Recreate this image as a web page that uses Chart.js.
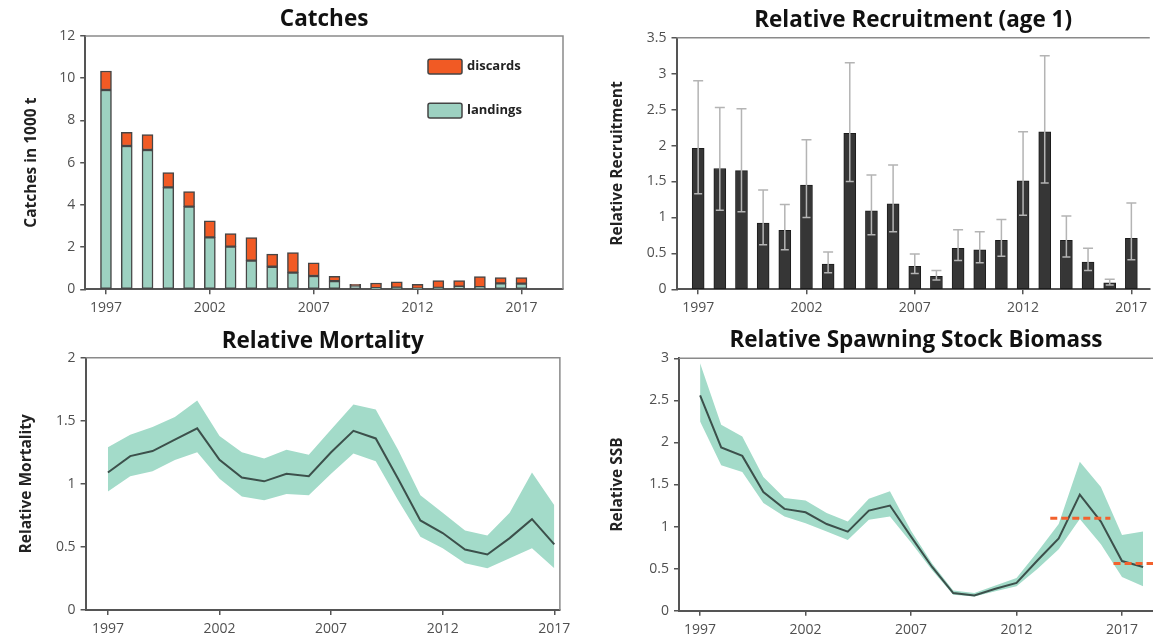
<!DOCTYPE html>
<html>
<head>
<meta charset="utf-8">
<title>Stock summary</title>
<script src="https://cdn.jsdelivr.net/npm/chart.js@4.4.1/dist/chart.umd.min.js"></script>
<style>
  html, body { margin: 0; padding: 0; background: #fff; }
  body { width: 1153px; height: 642px; position: relative; overflow: hidden; }
  .panel { position: absolute; }
</style>
</head>
<body>
<div class="panel" style="left:0;top:0;width:576px;height:320px"><canvas id="catches"></canvas></div>
<div class="panel" style="left:576px;top:0;width:577px;height:320px"><canvas id="recruitment"></canvas></div>
<div class="panel" style="left:0;top:320px;width:576px;height:322px"><canvas id="mortality"></canvas></div>
<div class="panel" style="left:576px;top:320px;width:577px;height:322px"><canvas id="ssb"></canvas></div>
<script>
// ---- data ----
const years = [1997, 1998, 1999, 2000, 2001, 2002, 2003, 2004, 2005, 2006, 2007,
               2008, 2009, 2010, 2011, 2012, 2013, 2014, 2015, 2016, 2017];
const ssbYears = [1997, 1998, 1999, 2000, 2001, 2002, 2003, 2004, 2005, 2006, 2007,
                  2008, 2009, 2010, 2011, 2012, 2013, 2014, 2015, 2016, 2017, 2018];
const yearTicks = [1997, 2002, 2007, 2012, 2017];

// catches in 1000 t
const landings = [9.44, 6.79, 6.6, 4.83, 3.92, 2.46, 2.02, 1.36, 1.07, 0.79, 0.63,
                  0.39, 0.17, 0.05, 0.08, 0.03, 0.07, 0.12, 0.1, 0.28, 0.27];
const discards = [0.9, 0.65, 0.73, 0.7, 0.71, 0.78, 0.62, 1.09, 0.6, 0.95, 0.62,
                  0.23, 0.07, 0.25, 0.27, 0.21, 0.34, 0.29, 0.5, 0.27, 0.28];
const catchTicks = [0, 2, 4, 6, 8, 10, 12];

// relative recruitment (age 1) with confidence limits
const recruit     = [1.96, 1.68, 1.65, 0.92, 0.82, 1.45, 0.35, 2.17, 1.09, 1.19, 0.32,
                     0.18, 0.57, 0.55, 0.68, 1.51, 2.19, 0.68, 0.38, 0.09, 0.71];
const recruitHigh = [2.9, 2.53, 2.51, 1.38, 1.18, 2.08, 0.52, 3.15, 1.59, 1.73, 0.49,
                     0.26, 0.83, 0.8, 0.97, 2.19, 3.25, 1.02, 0.57, 0.14, 1.2];
const recruitLow  = [1.33, 1.1, 1.08, 0.62, 0.55, 1.0, 0.23, 1.5, 0.76, 0.8, 0.22,
                     0.13, 0.4, 0.37, 0.46, 1.03, 1.48, 0.45, 0.26, 0.06, 0.41];
const recruitTicks = [0, 0.5, 1, 1.5, 2, 2.5, 3, 3.5];

// relative mortality with confidence band
const mort     = [1.09, 1.22, 1.26, 1.35, 1.44, 1.19, 1.05, 1.02, 1.08, 1.06, 1.25,
                  1.42, 1.36, 1.04, 0.71, 0.61, 0.48, 0.44, 0.57, 0.72, 0.52];
const mortHigh = [1.29, 1.39, 1.45, 1.53, 1.66, 1.38, 1.25, 1.2, 1.27, 1.23, 1.43,
                  1.63, 1.59, 1.27, 0.91, 0.77, 0.63, 0.59, 0.77, 1.09, 0.83];
const mortLow  = [0.94, 1.06, 1.1, 1.19, 1.25, 1.04, 0.9, 0.87, 0.92, 0.91, 1.08,
                  1.24, 1.18, 0.87, 0.58, 0.49, 0.37, 0.33, 0.41, 0.49, 0.33];
const mortTicks = [0, 0.5, 1, 1.5, 2];

// relative spawning stock biomass with confidence band
const ssb     = [2.56, 1.94, 1.84, 1.41, 1.21, 1.17, 1.03, 0.94, 1.19, 1.25, 0.88,
                 0.52, 0.21, 0.18, 0.26, 0.33, 0.6, 0.86, 1.38, 1.06, 0.59, 0.52];
const ssbHigh = [2.94, 2.21, 2.07, 1.59, 1.34, 1.31, 1.16, 1.06, 1.33, 1.42, 0.95,
                 0.56, 0.24, 0.21, 0.3, 0.39, 0.7, 1.03, 1.77, 1.47, 0.9, 0.94];
const ssbLow  = [2.25, 1.73, 1.65, 1.28, 1.12, 1.04, 0.94, 0.84, 1.08, 1.12, 0.81,
                 0.48, 0.19, 0.17, 0.23, 0.29, 0.5, 0.73, 1.09, 0.79, 0.4, 0.29];
const ssbTicks = [0, 0.5, 1, 1.5, 2, 2.5, 3];
// index-period means (level, first year edge, last year edge)
const ssbMeanLevels = [1.1, 0.56];
const ssbMeanFrom   = [2013.6, 2016.6];
const ssbMeanTo     = [2016.45, 2018.5];

// ---- styling ----
const FONT = 'Open Sans';
const AXIS = '#555';
const TICK_TEXT = '#505050';
const BAND = '#a3dbc9';
const LINE = '#3c504b';
const TITLE_SIZE = 22.5;
const AXIS_TITLE_SIZE = 15.5;

const pts = (xs, ys) => xs.map((x, i) => ({ x: x, y: ys[i] }));

function xAxis(min, max, height) {
  return {
    type: 'linear', min: min, max: max, offset: false,
    afterBuildTicks: s => { s.ticks = yearTicks.map(v => ({ value: v })); },
    afterFit: s => { s.height = height; },
    ticks: { font: { family: FONT, size: 14 }, color: TICK_TEXT, padding: 5.5,
             maxRotation: 0, autoSkip: false, callback: v => String(v) },
    grid: { display: true, drawOnChartArea: false, drawTicks: true, tickLength: 5,
            color: AXIS, lineWidth: 1.5, offset: false },
    border: { display: true, color: AXIS, width: 2 }
  };
}

// titleCenter: horizontal centre of the rotated axis title, from the canvas edge
function yAxis(max, tickVals, width, title, titleCenter) {
  return {
    type: 'linear', min: 0, max: max,
    afterBuildTicks: s => { s.ticks = tickVals.map(v => ({ value: v })); },
    afterFit: s => { s.width = width; },
    ticks: { font: { family: FONT, size: 14 }, color: TICK_TEXT, padding: 5,
             callback: v => String(v) },
    grid: { display: true, drawOnChartArea: false, drawTicks: true, tickLength: 5,
            color: AXIS, lineWidth: 1.5 },
    border: { display: true, color: AXIS, width: 2 },
    title: { display: true, text: title, color: '#222',
             font: { family: FONT, size: AXIS_TITLE_SIZE, weight: 'bold' },
             padding: { top: titleCenter - AXIS_TITLE_SIZE * 0.6, bottom: 0 } }
  };
}

// centre: vertical centre of the title line; areaTop: top of the plotting area
function titleOpts(text, centre, areaTop) {
  const half = TITLE_SIZE * 0.6;
  return {
    display: true, text: text, color: '#111', fullSize: false,
    font: { family: FONT, size: TITLE_SIZE, weight: 'bold' },
    padding: { top: centre - half, bottom: areaTop - centre - half }
  };
}

// top (and optionally right) frame of the plotting area
const frame = {
  id: 'frame',
  afterDraw(chart, args, opts) {
    const { ctx, chartArea: a } = chart;
    ctx.save();
    ctx.strokeStyle = '#8a8a8a';
    ctx.lineWidth = 1.5;
    ctx.beginPath();
    ctx.moveTo(a.left, a.top);
    ctx.lineTo(a.right, a.top);
    if (opts.right) ctx.lineTo(a.right, a.bottom);
    ctx.stroke();
    ctx.restore();
  }
};

// legend boxes drawn inside the catches plot
const insideLegend = {
  id: 'insideLegend',
  afterDraw(chart, args, opts) {
    const { ctx } = chart;
    const order = [1, 0]; // discards above landings
    ctx.save();
    order.forEach((di, k) => {
      const ds = chart.data.datasets[di];
      const x = opts.x, y = opts.y + k * opts.gap;
      ctx.fillStyle = ds.backgroundColor;
      ctx.strokeStyle = '#444';
      ctx.lineWidth = 1.5;
      ctx.beginPath();
      ctx.roundRect(x, y, opts.w, opts.h, 2);
      ctx.fill();
      ctx.stroke();
      ctx.fillStyle = '#222';
      ctx.font = 'bold 13px "' + FONT + '"';
      ctx.textBaseline = 'middle';
      ctx.fillText(ds.label, x + opts.w + 5, y + opts.h / 2);
    });
    ctx.restore();
  }
};

// confidence limits on the recruitment bars
const errorBars = {
  id: 'errorBars',
  afterDatasetsDraw(chart, args, opts) {
    const { ctx, scales: { x, y } } = chart;
    ctx.save();
    ctx.strokeStyle = '#b4b4b4';
    ctx.lineWidth = 1.5;
    opts.years.forEach((yr, i) => {
      const px = x.getPixelForValue(yr);
      const hi = y.getPixelForValue(opts.high[i]);
      const lo = y.getPixelForValue(opts.low[i]);
      ctx.beginPath();
      ctx.moveTo(px, lo); ctx.lineTo(px, hi);
      ctx.moveTo(px - 5, hi); ctx.lineTo(px + 5, hi);
      ctx.moveTo(px - 4, lo); ctx.lineTo(px + 4, lo);
      ctx.stroke();
    });
    ctx.restore();
  }
};

Chart.defaults.animation = false;
Chart.defaults.responsive = true;
Chart.defaults.maintainAspectRatio = false;
Chart.defaults.font.family = FONT;

// ---- Catches ----
new Chart(document.getElementById('catches'), {
  type: 'bar',
  data: {
    datasets: [
      { label: 'landings', data: pts(years, landings), backgroundColor: '#9dd1c1',
        borderColor: '#464646', borderWidth: 1.5, borderSkipped: false, barThickness: 11 },
      { label: 'discards', data: pts(years, discards), backgroundColor: '#f15a24',
        borderColor: '#464646', borderWidth: 1.5, borderSkipped: false, barThickness: 11 }
    ]
  },
  options: {
    layout: { padding: { left: 0, right: 13, top: 0, bottom: 0 } },
    scales: {
      x: Object.assign(xAxis(1996, 2019, 30.7), { stacked: true }),
      y: Object.assign(yAxis(12, catchTicks, 85.2, 'Catches in 1000 t', 31.2), { stacked: true })
    },
    plugins: {
      legend: { display: false }, tooltip: { enabled: false },
      title: titleOpts('Catches', 20, 36),
      frame: { right: true },
      insideLegend: { x: 428, y: 59.3, w: 34, h: 14.7, gap: 44 }
    }
  },
  plugins: [frame, insideLegend]
});

// ---- Relative Recruitment ----
new Chart(document.getElementById('recruitment'), {
  type: 'bar',
  data: {
    datasets: [
      { label: 'recruitment', data: pts(years, recruit), backgroundColor: '#363636',
        borderColor: '#1c1c1c', borderWidth: 1, borderSkipped: false, barThickness: 12 }
    ]
  },
  options: {
    layout: { padding: 0 },
    scales: {
      x: xAxis(1996, 2017.85, 30.7),
      y: yAxis(3.5, recruitTicks, 100.5, 'Relative Recruitment', 41.2)
    },
    plugins: {
      legend: { display: false }, tooltip: { enabled: false },
      title: titleOpts('Relative Recruitment (age 1)', 20.7, 37.7),
      frame: { right: false },
      errorBars: { years: years, high: recruitHigh, low: recruitLow }
    }
  },
  plugins: [frame, errorBars]
});

// Estimate line first so it is painted above the confidence band
// (Chart.js paints the first dataset last).
function bandDatasets(xs, high, low, mid) {
  return [
    { label: 'estimate', data: pts(xs, mid), borderColor: LINE, borderWidth: 2,
      pointRadius: 0, fill: false },
    { label: 'upper', data: pts(xs, high), borderWidth: 0, pointRadius: 0, fill: false },
    { label: 'lower', data: pts(xs, low), borderWidth: 0, pointRadius: 0,
      fill: '-1', backgroundColor: BAND }
  ];
}

// ---- Relative Mortality ----
new Chart(document.getElementById('mortality'), {
  type: 'line',
  data: { datasets: bandDatasets(years, mortHigh, mortLow, mort) },
  options: {
    layout: { padding: { left: 0, right: 12.8, top: 0, bottom: 0 } },
    elements: { line: { tension: 0 } },
    scales: {
      x: xAxis(1996, 2017.25, 32),
      y: yAxis(2, mortTicks, 85.6, 'Relative Mortality', 26.5)
    },
    plugins: {
      legend: { display: false }, tooltip: { enabled: false },
      title: titleOpts('Relative Mortality', 21.7, 37.7),
      frame: { right: true }
    }
  },
  plugins: [frame]
});

// ---- Relative Spawning Stock Biomass ----
const ssbMeans = ssbMeanLevels.map((lvl, i) => ({
  label: 'mean ' + (i + 1),
  data: [{ x: ssbMeanFrom[i], y: lvl }, { x: ssbMeanTo[i], y: lvl }],
  borderColor: '#f2622e', borderWidth: 3, borderDash: [7, 4],
  pointRadius: 0, fill: false
}));

new Chart(document.getElementById('ssb'), {
  type: 'line',
  data: { datasets: ssbMeans.concat(bandDatasets(ssbYears, ssbHigh, ssbLow, ssb)) },
  options: {
    layout: { padding: 0 },
    elements: { line: { tension: 0 } },
    scales: {
      x: xAxis(1996, 2018.47, 31.3),
      y: yAxis(3, ssbTicks, 103, 'Relative SSB', 41.2)
    },
    plugins: {
      legend: { display: false }, tooltip: { enabled: false },
      title: titleOpts('Relative Spawning Stock Biomass', 20.7, 38.3),
      frame: { right: false }
    }
  },
  plugins: [frame]
});
</script>
</body>
</html>
